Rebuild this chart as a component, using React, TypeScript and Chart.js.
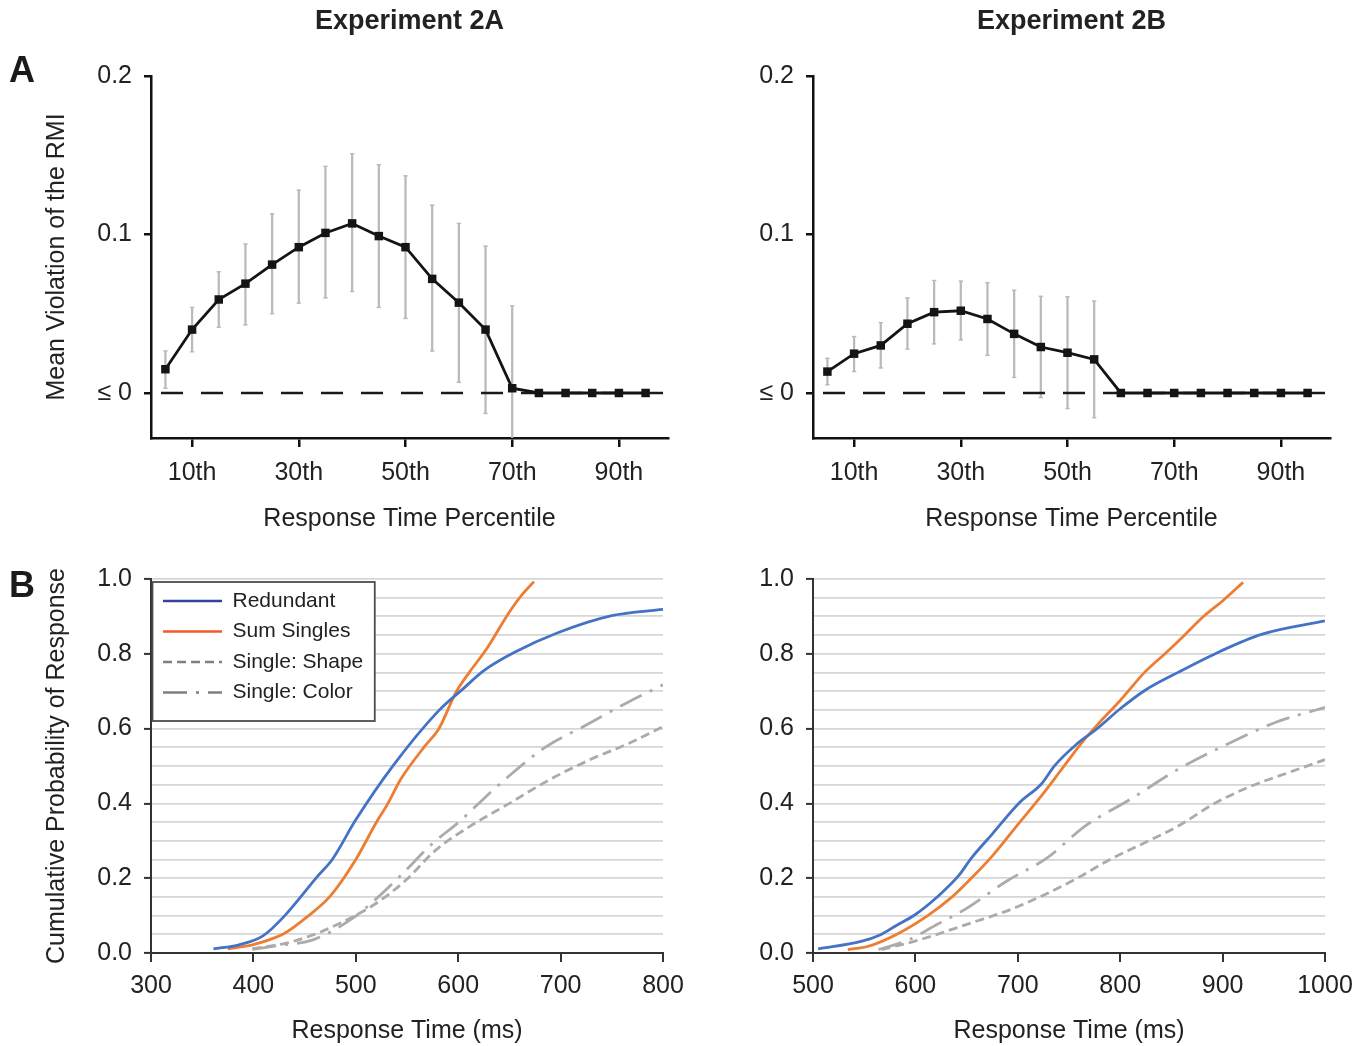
import React, { useEffect, useRef } from 'react';
import { Chart, registerables } from 'chart.js';

Chart.register(...registerables);

const FONT = '"Liberation Sans", Arial, Helvetica, sans-serif';
const TEXT = '#222222';

// ---------- Panel A: mean violation of the race model inequality ----------
const percentiles = [5, 10, 15, 20, 25, 30, 35, 40, 45, 50, 55, 60, 65, 70, 75, 80, 85, 90, 95];
const percentileTicks = [10, 30, 50, 70, 90];
const rmiTicks = [0, 0.1, 0.2];

const rmi2A = [0.015, 0.040, 0.059, 0.069, 0.081, 0.092, 0.101, 0.107, 0.099, 0.092, 0.072, 0.057, 0.040, 0.003, 0, 0, 0, 0, 0];
const err2APercentiles = [5, 10, 15, 20, 25, 30, 35, 40, 45, 50, 55, 60, 65, 70];
const err2AHigh = [0.0265, 0.054, 0.0765, 0.094, 0.113, 0.128, 0.143, 0.151, 0.144, 0.137, 0.1185, 0.107, 0.0927, 0.055];
const err2ALow = [0.003, 0.026, 0.0415, 0.043, 0.050, 0.0567, 0.060, 0.064, 0.054, 0.047, 0.0265, 0.0067, -0.0129, -0.035];

const rmi2B = [0.0135, 0.0248, 0.030, 0.0437, 0.051, 0.0519, 0.0467, 0.0373, 0.029, 0.0254, 0.0212, 0, 0, 0, 0, 0, 0, 0, 0];
const err2BPercentiles = [5, 10, 15, 20, 25, 30, 35, 40, 45, 50, 55];
const err2BHigh = [0.0219, 0.0356, 0.0444, 0.060, 0.071, 0.0706, 0.0696, 0.0648, 0.061, 0.0608, 0.058];
const err2BLow = [0.0052, 0.0135, 0.0158, 0.0277, 0.031, 0.0335, 0.0237, 0.0098, -0.0029, -0.0098, -0.0156];

// ---------- Panel B: cumulative probability of response ----------
const seriesNames = ['Redundant', 'Sum Singles', 'Single: Shape', 'Single: Color'];

const a_redundant_ms = [361, 386, 409, 430, 463, 477, 500, 537, 581, 605, 625, 655, 696, 750, 800];
const a_redundant_p = [0.011, 0.022, 0.045, 0.098, 0.206, 0.250, 0.356, 0.503, 0.648, 0.707, 0.755, 0.804, 0.855, 0.902, 0.919];
const a_sum_ms = [375, 399, 413, 430, 453, 475, 500, 520, 531, 544, 568, 581, 598, 611, 628, 650, 662, 674];
const a_sum_p = [0.011, 0.022, 0.033, 0.052, 0.098, 0.152, 0.250, 0.349, 0.398, 0.465, 0.555, 0.599, 0.698, 0.751, 0.814, 0.912, 0.957, 0.993];
const a_shape_ms = [399, 430, 458, 484, 520, 549, 578, 611, 650, 689, 728, 767, 800];
const a_shape_p = [0.012, 0.025, 0.048, 0.079, 0.133, 0.195, 0.275, 0.338, 0.400, 0.463, 0.516, 0.561, 0.605];
const a_color_ms = [399, 430, 458, 497, 526, 546, 575, 601, 627, 647, 686, 722, 764, 800];
const a_color_p = [0.010, 0.022, 0.035, 0.093, 0.160, 0.213, 0.293, 0.351, 0.418, 0.467, 0.552, 0.605, 0.668, 0.717];

const b_redundant_ms = [505, 547, 566, 581, 600, 621, 642, 655, 675, 702, 723, 736, 756, 777, 800, 824, 857, 898, 938, 1000];
const b_redundant_p = [0.011, 0.031, 0.049, 0.073, 0.103, 0.149, 0.206, 0.255, 0.318, 0.403, 0.452, 0.501, 0.555, 0.599, 0.653, 0.702, 0.751, 0.807, 0.852, 0.888];
const b_sum_ms = [534, 554, 581, 611, 635, 655, 675, 699, 723, 743, 763, 780, 800, 824, 844, 861, 881, 901, 920];
const b_sum_p = [0.009, 0.018, 0.049, 0.098, 0.148, 0.201, 0.259, 0.340, 0.420, 0.492, 0.564, 0.617, 0.675, 0.751, 0.801, 0.845, 0.899, 0.944, 0.991];
const b_shape_ms = [567, 605, 655, 689, 723, 756, 790, 824, 857, 891, 925, 965, 1000];
const b_shape_p = [0.009, 0.036, 0.081, 0.112, 0.152, 0.197, 0.250, 0.295, 0.340, 0.398, 0.443, 0.483, 0.517];
const b_color_ms = [564, 594, 621, 648, 689, 729, 766, 810, 857, 905, 952, 1000];
const b_color_p = [0.009, 0.036, 0.076, 0.116, 0.192, 0.255, 0.340, 0.411, 0.492, 0.559, 0.617, 0.657];

const pct_min = 2.3;
const pct_max = 99.2;

const lineColors = ['#4472C4', '#ED7D31', '#ABABAB', '#ABABAB'];
const legendColors = ['#33449f', '#f6582a', '#808080', '#808080'];
const lineDashes: number[][] = [[], [], [9, 5], [24, 9, 3, 9]];

const pairs = (xs: number[], ys: number[]) => xs.map((x, i) => ({ x, y: ys[i] }));

function topConfig(title: string, values: number[], errP: number[], errHi: number[], errLo: number[], yTitle: boolean): any {
  const font = { family: FONT, size: 25 };
  return {
    type: 'line',
    data: {
      datasets: [
        {
          type: 'line',
          label: 'Mean violation',
          data: pairs(percentiles, values),
          borderColor: '#141414',
          backgroundColor: '#141414',
          borderWidth: 2.8,
          pointStyle: 'rect',
          pointRadius: 6,
          pointBorderWidth: 0,
          pointBackgroundColor: '#141414',
          order: 0,
        },
        {
          type: 'line',
          label: 'zero',
          data: [{ x: pct_min, y: 0 }, { x: pct_max, y: 0 }],
          borderColor: '#1a1a1a',
          borderWidth: 2.4,
          borderDash: [22, 18],
          borderDashOffset: 30,
          pointRadius: 0,
          order: 1,
        },
        {
          type: 'bar',
          label: 'SE',
          data: errP.map((p, i) => ({ x: p, y: [errLo[i], errHi[i]] })),
          backgroundColor: '#bababa',
          barThickness: 1.6,
          order: 2,
        },
        {
          type: 'line',
          label: 'caps',
          data: errP.flatMap((p, i) => [{ x: p, y: errHi[i] }, { x: p, y: errLo[i] }]),
          showLine: false,
          pointStyle: 'line',
          pointRadius: 2.2,
          pointBorderColor: '#bababa',
          pointBorderWidth: 1.4,
          order: 2,
        },
      ],
    },
    options: {
      animation: false,
      responsive: false,
      devicePixelRatio: 1,
      layout: { padding: { top: 0, left: 0, right: 22, bottom: 12 } },
      plugins: {
        legend: { display: false },
        tooltip: { enabled: false },
        title: {
          display: true,
          text: title,
          fullSize: false,
          color: TEXT,
          font: { family: FONT, size: 27, weight: 'bold' },
          padding: { top: 5, bottom: 38.6 },
        },
      },
      scales: {
        x: {
          type: 'linear',
          min: pct_min,
          max: pct_max,
          offset: false,
          afterBuildTicks: (s: any) => { s.ticks = percentileTicks.map((v) => ({ value: v })); },
          afterFit: (s: any) => { s.height = 100; },
          ticks: { callback: (v: any) => v + 'th', font, color: TEXT, padding: 11, maxRotation: 0, autoSkip: false },
          grid: { display: true, drawOnChartArea: false, drawTicks: true, tickLength: 9, color: '#111', lineWidth: 2.5, offset: false },
          border: { display: true, color: '#111', width: 2.5 },
          title: { display: true, text: 'Response Time Percentile', font, color: TEXT, padding: { top: 0, bottom: 4 } },
        },
        y: {
          type: 'linear',
          min: -0.0284,
          max: 0.2,
          afterBuildTicks: (s: any) => { s.ticks = rmiTicks.map((v) => ({ value: v })); },
          afterFit: (s: any) => { s.width = 151; },
          ticks: { callback: (v: any) => (v === 0 ? '\u2264 0' : String(v)), font, color: TEXT, padding: 12, autoSkip: false },
          grid: { display: true, drawOnChartArea: false, drawTicks: true, tickLength: 7, color: '#111', lineWidth: 2.5 },
          border: { display: true, color: '#111', width: 2.5 },
          title: { display: yTitle, text: 'Mean Violation of the RMI', font, color: TEXT, padding: { top: 42, bottom: 0 } },
        },
      },
    },
  };
}

const isMajor = (v: number) => Math.abs(v * 5 - Math.round(v * 5)) < 1e-6;

const legendFrame = {
  id: 'legendFrame',
  afterLayout(chart: any) {
    const lg = chart.legend;
    if (!lg || !lg.options.display) return;
    const dy = chart.chartArea.top + 2 - lg.top;
    const dx = chart.chartArea.left + 2.5 - lg.left;
    lg.top += dy;
    lg.bottom += dy;
    lg.left += dx;
    lg.right += dx;
    (lg.legendHitBoxes || []).forEach((h: any) => { h.top += dy; h.left += dx; });
  },
  beforeDatasetsDraw(chart: any) {
    const lg = chart.legend;
    if (!lg || !lg.options.display || !lg.legendHitBoxes || !lg.legendHitBoxes.length) return;
    const hb = lg.legendHitBoxes;
    const ctx = chart.ctx;
    const left = chart.chartArea.left + 1.5;
    const top = chart.chartArea.top + 3;
    const right = Math.max(...hb.map((h: any) => h.left + h.width)) + 9;
    const bottom = Math.max(...hb.map((h: any) => h.top + h.height)) + 18;
    ctx.save();
    ctx.fillStyle = '#ffffff';
    ctx.fillRect(left, top, right - left, bottom - top);
    ctx.strokeStyle = '#4d4d4d';
    ctx.lineWidth = 1.8;
    ctx.strokeRect(left, top, right - left, bottom - top);
    ctx.restore();
    lg.draw();
  },
};

function bottomConfig(series: [number[], number[]][], xMin: number, xMax: number, yTitle: boolean, showLegend: boolean): any {
  const font = { family: FONT, size: 25 };
  return {
    type: 'line',
    data: {
      datasets: series.map(([xs, ys], i) => ({
        label: seriesNames[i],
        data: pairs(xs, ys),
        borderColor: lineColors[i],
        backgroundColor: lineColors[i],
        borderWidth: 2.8,
        borderDash: lineDashes[i],
        pointRadius: 0,
        cubicInterpolationMode: 'monotone',
        fill: false,
      })),
    },
    options: {
      animation: false,
      responsive: false,
      devicePixelRatio: 1,
      layout: { padding: { top: 29, left: 0, right: 37, bottom: 0 } },
      plugins: {
        tooltip: { enabled: false },
        title: { display: false },
        legend: {
          display: showLegend,
          position: 'chartArea',
          align: 'start',
          labels: {
            usePointStyle: true,
            pointStyle: 'line',
            pointStyleWidth: 59,
            font: { family: FONT, size: 21 },
            color: TEXT,
            padding: 9.5,
            generateLabels: (chart: any) =>
              chart.data.datasets.map((ds: any, i: number) => ({
                text: ds.label,
                strokeStyle: legendColors[i],
                fillStyle: legendColors[i],
                fontColor: TEXT,
                lineWidth: 2.4,
                lineDash: lineDashes[i],
                pointStyle: 'line',
                hidden: false,
                datasetIndex: i,
              })),
          },
        },
      },
      scales: {
        x: {
          type: 'linear',
          min: xMin,
          max: xMax,
          offset: false,
          afterFit: (s: any) => { s.height = 93; },
          ticks: { stepSize: 100, callback: (v: any) => String(v), font, color: TEXT, padding: 9, maxRotation: 0, autoSkip: false },
          grid: { display: true, drawOnChartArea: false, drawTicks: true, tickLength: 9, color: '#333', lineWidth: 2 },
          border: { display: true, color: '#333', width: 2 },
          title: { display: true, text: 'Response Time (ms)', font, color: TEXT, padding: { top: 0, bottom: 0 } },
        },
        y: {
          type: 'linear',
          min: 0,
          max: 1,
          afterFit: (s: any) => { s.width = 151; },
          ticks: {
            stepSize: 0.05,
            autoSkip: false,
            callback: (v: any) => (isMajor(v) ? Number(v).toFixed(1) : ''),
            font,
            color: TEXT,
            padding: 12,
          },
          grid: {
            display: true,
            drawOnChartArea: true,
            drawTicks: true,
            tickLength: 7,
            color: '#d6d6d6',
            lineWidth: 1.8,
            tickColor: (c: any) => (c.tick && isMajor(c.tick.value) ? '#333' : 'rgba(0,0,0,0)'),
            tickWidth: 2,
          },
          border: { display: true, color: '#333', width: 2 },
          title: { display: yTitle, text: 'Cumulative Probability of Response', font, color: TEXT, padding: { top: 42, bottom: 0 } },
        },
      },
    },
    plugins: showLegend ? [legendFrame] : [],
  };
}

function ChartCanvas(props: { left: number; top: number; width: number; height: number; make: () => any }) {
  const ref = useRef<HTMLCanvasElement | null>(null);
  useEffect(() => {
    if (!ref.current) return;
    const chart = new Chart(ref.current, props.make());
    return () => chart.destroy();
  }, []);
  return (
    <canvas
      ref={ref}
      width={props.width}
      height={props.height}
      style={{ position: 'absolute', left: props.left, top: props.top, width: props.width, height: props.height }}
    />
  );
}

const letterStyle: React.CSSProperties = {
  position: 'absolute',
  fontFamily: FONT,
  fontWeight: 'bold',
  fontSize: 36,
  lineHeight: '36px',
  color: '#1a1a1a',
};

export default function App() {
  return (
    <div style={{ position: 'absolute', left: 0, top: 0, width: 1371, height: 1046, background: '#ffffff', overflow: 'hidden' }}>
      <ChartCanvas left={0} top={0} width={690} height={550}
        make={() => topConfig('Experiment 2A', rmi2A, err2APercentiles, err2AHigh, err2ALow, true)} />
      <ChartCanvas left={662} top={0} width={690} height={550}
        make={() => topConfig('Experiment 2B', rmi2B, err2BPercentiles, err2BHigh, err2BLow, false)} />
      <ChartCanvas left={0} top={550} width={700} height={496}
        make={() => bottomConfig([[a_redundant_ms, a_redundant_p], [a_sum_ms, a_sum_p], [a_shape_ms, a_shape_p], [a_color_ms, a_color_p]], 300, 800, true, true)} />
      <ChartCanvas left={662} top={550} width={700} height={496}
        make={() => bottomConfig([[b_redundant_ms, b_redundant_p], [b_sum_ms, b_sum_p], [b_shape_ms, b_shape_p], [b_color_ms, b_color_p]], 500, 1000, false, false)} />
      <div style={{ ...letterStyle, left: 9, top: 52 }}>A</div>
      <div style={{ ...letterStyle, left: 9, top: 567 }}>B</div>
    </div>
  );
}
